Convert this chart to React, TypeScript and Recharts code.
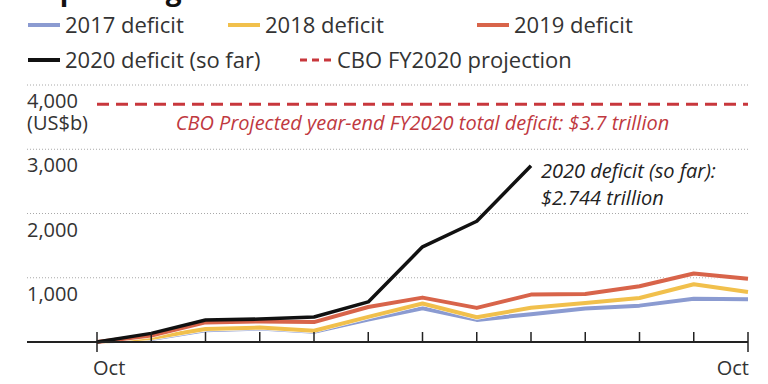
import React from 'react';
import { LineChart, Line, XAxis, YAxis, CartesianGrid, ReferenceLine, ReferenceDot, Legend } from 'recharts';

// ---------- data ----------
const monthIndex = [0, 1, 2, 3, 4, 5, 6, 7, 8, 9, 10, 11, 12];
const xTickLabels = ['Oct', '', '', '', '', '', '', '', '', '', '', '', 'Oct'];
const deficit2017 = [0, 45, 182, 209, 158, 349, 526, 344, 433, 523, 566, 674, 666];
const deficit2018 = [0, 63, 202, 225, 176, 391, 600, 385, 532, 607, 684, 898, 779];
const deficit2019 = [0, 100, 305, 319, 310, 544, 691, 531, 738, 747, 867, 1067, 984];
const deficit2020 = [0, 134, 343, 357, 389, 624, 1481, 1880, 2744];
const yTicks = [0, 1000, 2000, 3000, 4000];
const cboProjection = 3700;
const seriesNames = ['2017 deficit', '2018 deficit', '2019 deficit', '2020 deficit (so far)', 'CBO FY2020 projection'];

const C2017 = '#8b9bd1';
const C2018 = '#f1c04c';
const C2019 = '#d8644a';
const C2020 = '#111111';
const CCBO = '#c8373c';
const TEXT = '#333333';
const FONT = '"Open Sans", "DejaVu Sans", sans-serif';

const data = monthIndex.map((i, k) => ({
  i,
  d2017: deficit2017[k],
  d2018: deficit2018[k],
  d2019: deficit2019[k],
  d2020: k < deficit2020.length ? deficit2020[k] : null,
}));

const fmt = (v: number) => v.toLocaleString('en-US');

const YTick = (props: any) => {
  const { y, payload } = props;
  if (payload.value === 0) return <g />;
  return (
    <g>
      <text x={27} y={y + 23} fill={TEXT} fontSize={20} fontFamily={FONT} textAnchor="start">
        {fmt(payload.value)}
      </text>
      {payload.value === 4000 && (
        <text x={27} y={y + 45} fill={TEXT} fontSize={20} fontFamily={FONT} textAnchor="start">
          (US$b)
        </text>
      )}
    </g>
  );
};

const XTick = (props: any) => {
  const { x, y, index } = props;
  const label = xTickLabels[index] || '';
  const isEnd = index === 0 || index === monthIndex.length - 1;
  return (
    <g>
      <line x1={x} x2={x} y1={y - 10} y2={isEnd ? y + 10 : y} stroke="#222" strokeWidth={1.5} />
      {label && (
        <text
          x={index === 0 ? x - 4 : x + 1}
          y={y + 33}
          fill={TEXT}
          fontSize={20}
          fontFamily={FONT}
          textAnchor={index === 0 ? 'start' : 'end'}
        >
          {label}
        </text>
      )}
    </g>
  );
};

const legendItems = [
  { name: seriesNames[0], color: C2017, dash: false, x: 28, row: 0 },
  { name: seriesNames[1], color: C2018, dash: false, x: 228, row: 0 },
  { name: seriesNames[2], color: C2019, dash: false, x: 477, row: 0 },
  { name: seriesNames[3], color: C2020, dash: false, x: 28, row: 1 },
  { name: seriesNames[4], color: CCBO, dash: true, x: 300, row: 1 },
];

const LegendContent = () => (
  <svg width={768} height={80} style={{ display: 'block' }}>
    <text x={28} y={0} fontSize={28} fontWeight="bold" fill="#111" fontFamily={FONT}>
      Explosive growth
    </text>
    {legendItems.map((it) => {
      const cy = it.row === 0 ? 25 : 60;
      return (
        <g key={it.name}>
          <line
            x1={it.x}
            x2={it.x + 32}
            y1={cy}
            y2={cy}
            stroke={it.color}
            strokeWidth={it.dash ? 3 : 4}
            strokeDasharray={it.dash ? '7 5' : undefined}
          />
          <text x={it.x + 37} y={cy + 8} fontSize={22} fill={TEXT} fontFamily={FONT}>
            {it.name}
          </text>
        </g>
      );
    })}
  </svg>
);

const CboLabel = (props: any) => {
  const vb = props.viewBox || {};
  const cx = vb.x + (vb.width || 0) / 2;
  const cy = vb.y + (vb.height || 0) / 2;
  return (
    <text x={cx} y={cy + 26} textAnchor="middle" fontSize={20} fontStyle="italic" fill="#c0393f" fontFamily={FONT}>
      CBO Projected year-end FY2020 total deficit: $3.7 trillion
    </text>
  );
};

const Label2020 = (props: any) => {
  const vb = props.viewBox || {};
  const cx = vb.x + (vb.width || 0) / 2;
  const cy = vb.y + (vb.height || 0) / 2;
  return (
    <g>
      <text x={cx + 10} y={cy + 12} fontSize={20} fontStyle="italic" fill="#222" fontFamily={FONT}>
        2020 deficit (so far):
      </text>
      <text x={cx + 10} y={cy + 39} fontSize={20} fontStyle="italic" fill="#222" fontFamily={FONT}>
        {'$' + (deficit2020[deficit2020.length - 1] / 1000).toFixed(3) + ' trillion'}
      </text>
    </g>
  );
};

export default function App() {
  const halo = (key: string, w: number) => (
    <Line
      key={'h' + key}
      dataKey={key}
      stroke="#ffffff"
      strokeWidth={w}
      dot={false}
      activeDot={false}
      isAnimationActive={false}
      legendType="none"
      strokeLinejoin="round"
    />
  );
  return (
    <div style={{ position: 'absolute', left: 0, top: 0, width: 768, height: 384, background: '#fff' }}>
      <LineChart
        width={768}
        height={384}
        data={data}
        margin={{ top: 85, right: 20, bottom: 12, left: 0 }}
        style={{ fontFamily: FONT }}
      >
        <CartesianGrid horizontal vertical={false} stroke="#a8a8a8" strokeDasharray="1 2" />
        <XAxis
          dataKey="i"
          type="number"
          domain={[0, 12]}
          ticks={monthIndex}
          interval={0}
          padding={{ left: 70, right: 0 }}
          height={30}
          tickSize={0}
          tickMargin={0}
          tickLine={false}
          axisLine={{ stroke: '#222', strokeWidth: 2 }}
          tick={<XTick />}
        />
        <YAxis
          type="number"
          domain={[0, 4000]}
          ticks={yTicks}
          interval={0}
          width={27}
          axisLine={false}
          tickLine={false}
          tick={<YTick />}
        />
        <Legend layout="horizontal" verticalAlign="middle" align="center" content={<LegendContent />}
          wrapperStyle={{ position: 'absolute', top: 0, left: 0, width: 768, height: 80 }} />
        <ReferenceLine
          segment={[{ x: 0, y: cboProjection }, { x: 12, y: cboProjection }]}
          stroke={CCBO}
          strokeWidth={3}
          strokeDasharray="12 7"
          ifOverflow="visible"
        />
        <ReferenceDot x={6} y={cboProjection} r={0} fill="none" stroke="none" label={<CboLabel />} ifOverflow="visible" />
        <Line dataKey="d2017" stroke={C2017} strokeWidth={4} dot={false} activeDot={false} isAnimationActive={false} strokeLinejoin="round" />
        {halo('d2018', 5)}
        <Line dataKey="d2018" stroke={C2018} strokeWidth={4} dot={false} activeDot={false} isAnimationActive={false} strokeLinejoin="round" />
        {halo('d2019', 5)}
        <Line dataKey="d2019" stroke={C2019} strokeWidth={4} dot={false} activeDot={false} isAnimationActive={false} strokeLinejoin="round" />
        <Line dataKey="d2020" stroke={C2020} strokeWidth={3.5} dot={false} activeDot={false} isAnimationActive={false} strokeLinejoin="round" />
        <ReferenceDot x={8} y={deficit2020[deficit2020.length - 1]} r={0} fill="none" stroke="none" label={<Label2020 />} ifOverflow="visible" />
      </LineChart>
    </div>
  );
}
